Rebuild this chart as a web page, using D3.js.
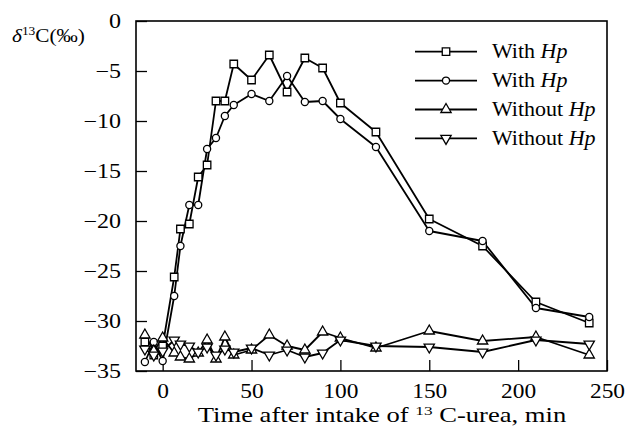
<!DOCTYPE html>
<html>
<head>
<meta charset="utf-8">
<script src="https://cdn.jsdelivr.net/npm/d3@7"></script>
<style>
  html, body { margin: 0; padding: 0; background: #fff; }
  svg { display: block; }
</style>
</head>
<body>
<svg id="chart" width="626" height="433"></svg>
<script>
// time points (min) and d13C values
const times = [-10, -5, 0, 6.5, 10, 15, 20, 25, 30, 35, 40, 50, 60, 70, 80, 90, 100, 120, 150, 180, 210, 240];
const withHpA = [-32.1, -33.4, -32.5, -25.6, -20.8, -20.3, -15.6, -14.4, -8.0, -8.0, -4.3, -5.9, -3.4, -7.1, -3.7, -4.7, -8.2, -11.1, -19.8, -22.5, -28.1, -30.2];
const withHpB = [-34.1, -32.1, -34.0, -27.5, -22.5, -18.4, -18.4, -12.8, -11.7, -9.5, -8.4, -7.3, -8.0, -5.5, -8.1, -8.0, -9.8, -12.6, -21.0, -22.0, -28.7, -29.6];
const withoutHpA = [-31.4, -33.0, -31.7, -33.2, -33.6, -33.8, -33.2, -31.9, -33.8, -31.6, -33.4, -32.9, -31.4, -32.5, -32.9, -31.1, -31.7, -32.7, -31.0, -32.0, -31.6, -33.4];
const withoutHpB = [-32.8, -33.4, -33.0, -31.9, -32.3, -32.5, -33.1, -32.6, -33.4, -32.8, -33.1, -32.7, -33.4, -32.9, -33.6, -33.2, -31.9, -32.5, -32.6, -33.1, -31.9, -32.3];

const xTicks = [0, 50, 100, 150, 200, 250];
const yTicks = [0, -5, -10, -15, -20, -25, -30, -35];

const series = [
    { label: "With ",    values: withHpA,    marker: "square" },
    { label: "With ",    values: withHpB,    marker: "circle" },
    { label: "Without ", values: withoutHpA, marker: "up" },
    { label: "Without ", values: withoutHpB, marker: "down" }
];

const font = "'Liberation Serif', 'Times New Roman', serif";
const margin = { top: 21, right: 19, bottom: 62, left: 136 };
const width = 626, height = 433;

const svg = d3.select("#chart");

const x = d3.scaleLinear()
    .domain([-15, 250])
    .range([margin.left, width - margin.right]);

const y = d3.scaleLinear()
    .domain([-35, 0])
    .range([height - margin.bottom, margin.top]);

// the original typeface is wider than Times; stretch text around its anchor
function stretch(sel, sx) {
    sel.each(function() {
        const t = d3.select(this);
        const x0 = +t.attr("x") || 0;
        t.attr("transform", `translate(${x0 * (1 - sx)},0) scale(${sx},1)`);
    });
}

const symbolFor = {
    square: d3.symbol(d3.symbolSquare, 56),
    circle: d3.symbol(d3.symbolCircle, 40),
    up: d3.symbol(d3.symbolTriangle, 46),
    down: d3.symbol(d3.symbolTriangle, 46)
};

function drawMarker(g, kind, px, py) {
    g.append("path")
        .attr("d", symbolFor[kind]())
        .attr("transform", `translate(${px},${py})` + (kind == "down" ? " rotate(180)" : ""))
        .attr("fill", "#fff")
        .attr("stroke", "#000")
        .attr("stroke-width", 1.3);
}

// axes, ticks pointing inward
svg.append("g")
    .attr("transform", `translate(0,${height - margin.bottom})`)
    .call(d3.axisBottom(x).tickValues(xTicks).tickSize(-11).tickPadding(13).tickFormat(d3.format("d")))
    .call(g => g.select(".domain").remove())
    .call(g => g.selectAll("line").attr("stroke-width", 1.3))
    .call(g => g.selectAll("text").attr("font-family", font).attr("font-size", 20).attr("fill", "#000"))
    .call(g => stretch(g.selectAll("text"), 1.17));

svg.append("g")
    .attr("transform", `translate(${margin.left},0)`)
    .call(d3.axisLeft(y).tickValues(yTicks).tickSize(-11).tickPadding(15).tickFormat(d3.format("d")))
    .call(g => g.select(".domain").remove())
    .call(g => g.selectAll("line").attr("stroke-width", 1.3))
    .call(g => g.selectAll("text").attr("font-family", font).attr("font-size", 20).attr("fill", "#000"))
    .call(g => stretch(g.selectAll("text"), 1.2));

// frame
svg.append("rect")
    .attr("x", x(-15))
    .attr("y", y(0))
    .attr("width", x(250) - x(-15))
    .attr("height", y(-35) - y(0))
    .attr("fill", "none")
    .attr("stroke", "#000")
    .attr("stroke-width", 1.6);

// lines
const line = d3.line()
    .x((d, i) => x(times[i]))
    .y(d => y(d));

const plot = svg.append("g");
series.forEach(s => {
    plot.append("path")
        .attr("d", line(s.values))
        .attr("fill", "none")
        .attr("stroke", "#000")
        .attr("stroke-width", 1.8)
        .attr("stroke-linejoin", "round");
});
series.forEach(s => {
    const g = plot.append("g");
    s.values.forEach((v, i) => drawMarker(g, s.marker, x(times[i]), y(v)));
});

// legend
const legend = svg.append("g");
series.forEach((s, i) => {
    const ly = 51.7 + i * 28.9;
    legend.append("line")
        .attr("x1", 415).attr("x2", 477)
        .attr("y1", ly).attr("y2", ly)
        .attr("stroke", "#000")
        .attr("stroke-width", 1.8);
    drawMarker(legend, s.marker, 446, ly);
    const t = legend.append("text")
        .attr("x", 492)
        .attr("y", ly + 6.5)
        .attr("font-family", font)
        .attr("font-size", 20);
    t.append("tspan").text(s.label);
    t.append("tspan").attr("font-style", "italic").text("Hp");
    stretch(t, 1.1);
});

// axis titles
const yt = svg.append("text")
    .attr("x", 12)
    .attr("y", 42)
    .attr("font-family", font)
    .attr("font-size", 19);
yt.append("tspan").attr("font-style", "italic").text("δ");
yt.append("tspan").attr("font-size", 12).attr("dy", -7).text("13");
yt.append("tspan").attr("dy", 7).text("C(‰)");
stretch(yt, 1.12);

const xt = svg.append("text")
    .attr("x", 382)
    .attr("y", 422)
    .attr("text-anchor", "middle")
    .attr("font-family", font)
    .attr("font-size", 20);
xt.append("tspan").text("Time after intake of ");
xt.append("tspan").attr("font-size", 13).attr("dy", -7).text("13");
xt.append("tspan").attr("dy", 7).text(" C-urea, min");
stretch(xt, 1.33);
</script>
</body>
</html>
